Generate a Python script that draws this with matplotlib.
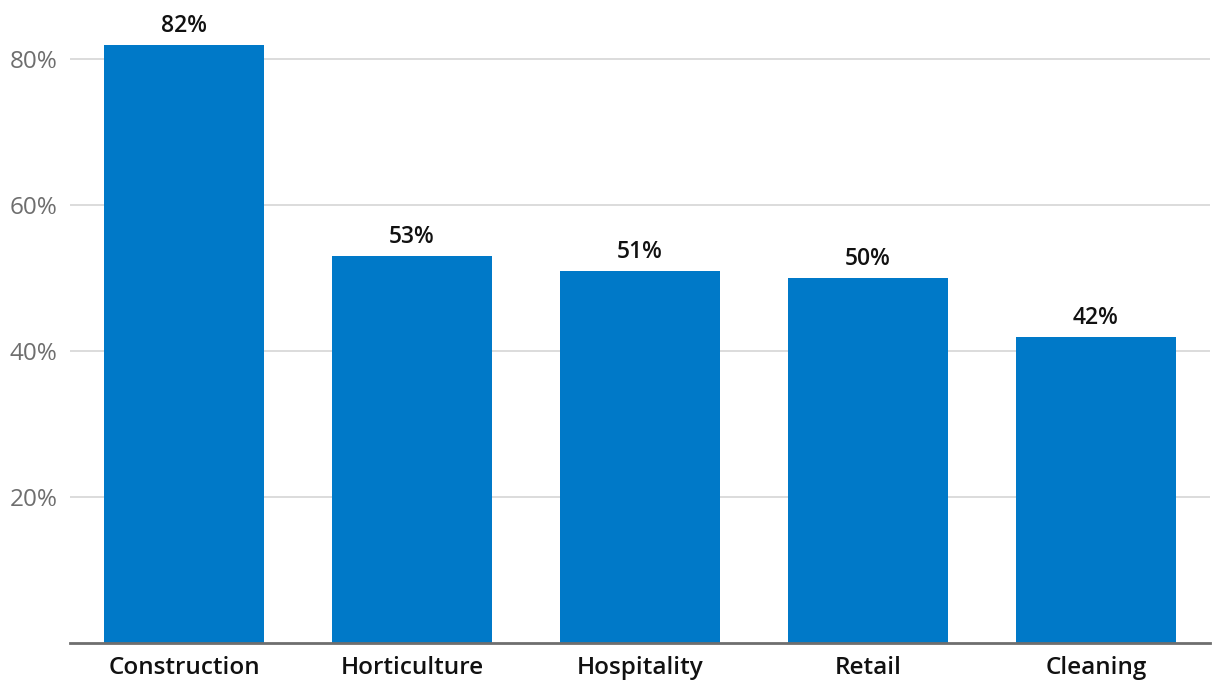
import matplotlib.pyplot as plt

# Data
categories = ["Construction", "Horticulture", "Hospitality", "Retail", "Cleaning"]
values = [82, 53, 51, 50, 42]
ticks = [20, 40, 60, 80]
tick_labels = ["20%", "40%", "60%", "80%"]

plt.rcParams['font.family'] = ['Open Sans', 'DejaVu Sans']

fig = plt.figure(figsize=(12.2, 6.94), dpi=100)
ax = fig.add_axes([70 / 1220, 51 / 694, 1140 / 1220, 642 / 694])

x = range(len(categories))
bars = ax.bar(x, values, width=0.70, color="#0079c8", zorder=3)

# value labels above bars
for xi, v in zip(x, values):
    ax.annotate(f"{v}%", (xi, v), xytext=(0, 5), textcoords="offset points",
                ha="center", va="bottom", fontsize=16.5, fontweight="semibold",
                color="#111111")

ax.set_xlim(-0.5, 4.5)
ax.set_ylim(0, 88)
ax.set_xticks(list(x))
ax.set_xticklabels(categories, fontsize=17.5, fontweight="semibold", color="#111111")
ax.set_yticks(ticks)
ax.set_yticklabels(tick_labels, fontsize=17.5, color="#6e6e6e")
ax.tick_params(axis="both", length=0)
ax.tick_params(axis="y", pad=9)
ax.tick_params(axis="x", pad=9.5)

ax.grid(axis="y", color="#d9d9d9", linewidth=1.3, zorder=0)
for s in ["top", "right", "left"]:
    ax.spines[s].set_visible(False)
ax.spines["bottom"].set_color("#6e6e6e")
ax.spines["bottom"].set_linewidth(2)
ax.spines["bottom"].set_zorder(4)

fig.savefig("out.png", dpi=100)
